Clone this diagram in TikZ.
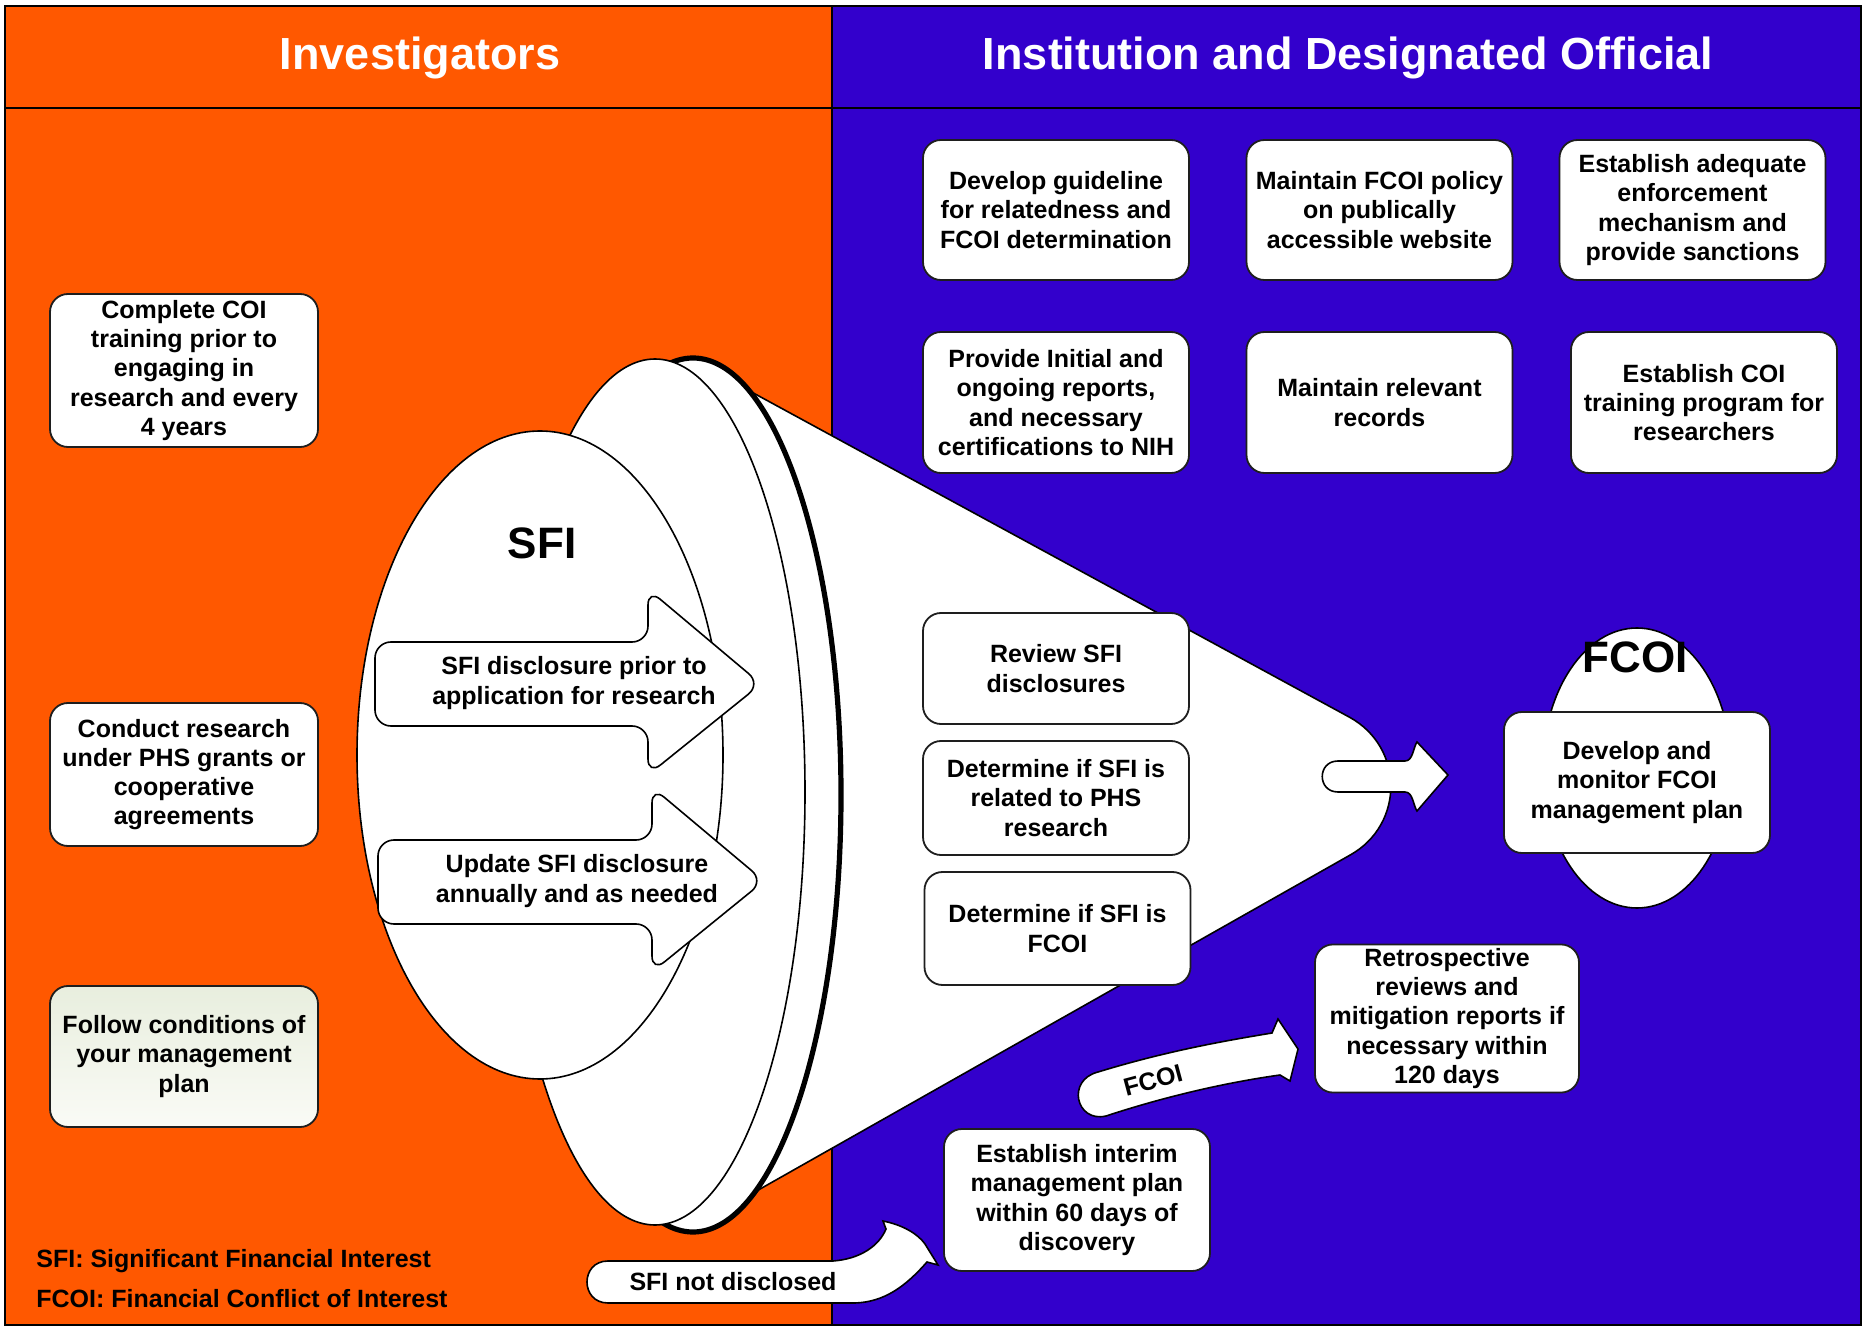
\documentclass[tikz,border=0pt]{standalone}
\usepackage{fontspec}
\setmainfont{Liberation Sans}
\definecolor{orng}{RGB}{255,88,0}
\definecolor{blu}{RGB}{51,0,204}
\definecolor{greentop}{RGB}{232,238,222}
\definecolor{greenbot}{RGB}{250,251,246}
\definecolor{edge}{RGB}{30,30,30}
\newcommand\boxtxt{\fontsize{12.5}{14.6}\selectfont\bfseries}
\newcommand\bigtxt{\fontsize{22}{26}\selectfont\bfseries}
\newcommand\headtxt{\fontsize{22.5}{27}\selectfont\bfseries}
\tikzset{
  box/.style={draw=edge, line width=0.9pt, fill=white, rounded corners=9pt, align=center, inner sep=2pt, font=\boxtxt, text=black},
  outl/.style={draw=black, line width=0.8pt, fill=white},
  lbl/.style={font=\boxtxt, align=center, text=black, inner sep=0pt},
  head/.style={font=\headtxt, text=white, inner sep=0pt},
}
\begin{document}
\begin{tikzpicture}[x=0.5pt,y=-0.5pt]
\useasboundingbox (0,0) rectangle (1865,1326);
% background panels
\fill[white] (0,0) rectangle (1865,1326);
\fill[orng] (5,6) rectangle (832,1325);
\fill[blu] (832,6) rectangle (1861,1325);
\draw[line width=0.8pt] (5,6) rectangle (1861,1325);
\draw[line width=0.8pt] (5,108) -- (1861,108);
\draw[line width=0.8pt] (832,6) -- (832,1325);
% headers
\node[head] (hinv) at (420,58) {Investigators};
\node[head] (hinst) at (1348,58) {Institution and Designated Official};
% left boxes
\node[box, minimum width=134pt, minimum height=76.5pt] (coi) at (184,370.5) {Complete COI\\training prior to\\engaging in\\research and every\\4 years};
\node[box, minimum width=134pt, minimum height=71.5pt] (conduct) at (184,774.5) {Conduct research\\under PHS grants or\\cooperative\\agreements};
\node[box, top color=greentop, bottom color=greenbot, minimum width=134pt, minimum height=70.5pt] (follow) at (184,1056.5) {Follow conditions of\\your management\\plan};
% legend
\node[lbl, anchor=west] (leg1) at (36,1261) {SFI: Significant Financial Interest};
\node[lbl, anchor=west] (leg2) at (36,1299) {FCOI: Financial Conflict of Interest};
% right top boxes
\node[box, minimum width=133pt, minimum height=70pt] (guide) at (1056,210) {Develop guideline\\for relatedness and\\FCOI determination};
\node[box, minimum width=133pt, minimum height=70pt] (policy) at (1379.5,210) {Maintain FCOI policy\\on publically\\accessible website};
\node[box, minimum width=133pt, minimum height=70pt] (enforce) at (1692.5,210) {Establish adequate\\enforcement\\mechanism and\\provide sanctions};
\node[box, minimum width=133pt, minimum height=70.5pt] (reports) at (1056,402.5) {Provide Initial and\\ongoing reports,\\and necessary\\certifications to NIH};
\node[box, minimum width=133pt, minimum height=70.5pt] (records) at (1379.5,402.5) {Maintain relevant\\records};
\node[box, minimum width=133pt, minimum height=70.5pt] (training) at (1704,402.5) {Establish COI\\training program for\\researchers};
% cone body
\draw[outl] (700,364) -- (1349.3,717.1) .. controls (1404.2,747) and (1404.8,824.2) .. (1350.4,854.9) -- (700,1223) -- cycle;
% rim and face
\draw[draw=black, fill=white, line width=2.6pt] (693,795) ellipse[x radius=74pt, y radius=218.5pt];
\draw[outl] (655,792) ellipse[x radius=75pt, y radius=216.5pt];
% SFI ellipse
\draw[outl] (540,755) ellipse[x radius=91.5pt, y radius=162pt];
\node[font=\bigtxt, inner sep=0pt] (sfi) at (542,543) {SFI};
% arrows inside SFI
\draw[outl, rounded corners=8pt] (375,642) -- (648,642) -- (648,589) -- (761,684) -- (648,775) -- (648,726) -- (375,726) -- cycle;
\node[lbl] (disc) at (574,683) {SFI disclosure prior to\\application for research};
\draw[outl, rounded corners=8pt] (378,840) -- (652,840) -- (652,787) -- (764,881) -- (652,972) -- (652,924) -- (378,924) -- cycle;
\node[lbl] (upd) at (577,881) {Update SFI disclosure\\annually and as needed};
% cone boxes
\node[box, minimum width=133pt, minimum height=55.5pt] (review) at (1056,668.5) {Review SFI\\disclosures};
\node[box, minimum width=133pt, minimum height=57pt] (related) at (1056,798) {Determine if SFI is\\related to PHS\\research};
\node[box, minimum width=133pt, minimum height=56.5pt] (isfcoi) at (1057.5,928.5) {Determine if SFI is\\FCOI};
% small arrow at cone tip
\draw[outl] (1338,761) -- (1405,761) .. controls (1413,761) and (1413,748) .. (1417,742) -- (1448,775) -- (1417,811) .. controls (1413,805) and (1413,792) .. (1405,792) -- (1338,792) .. controls (1317,792) and (1317,761) .. (1338,761) -- cycle;
% FCOI ellipse and box
\draw[outl] (1637,768) ellipse[x radius=47pt, y radius=70pt];
\node[font=\bigtxt, inner sep=0pt] (fcoi) at (1635,657) {FCOI};
\node[box, minimum width=133pt, minimum height=70.5pt] (plan) at (1637,782.5) {Develop and\\monitor FCOI\\management plan};
% FCOI curved arrow
\draw[outl] (1098,1072) .. controls (1170,1050) and (1230,1040) .. (1272,1033) -- (1278,1019) -- (1298,1049) -- (1290,1081) -- (1280,1075) .. controls (1230,1082) and (1170,1095) .. (1106,1116) .. controls (1076,1123) and (1066,1080) .. (1098,1072) -- cycle;
\node[lbl, rotate=15] (fcoilbl) at (1153,1080) {FCOI};
\node[box, minimum width=132pt, minimum height=70.5pt] (retro) at (1447,1018.5) {Retrospective\\reviews and\\mitigation reports if\\necessary within\\120 days};
% SFI not disclosed arrow
\draw[outl] (608,1261) -- (833,1261) .. controls (860,1259) and (879,1246) .. (886,1229) -- (883,1221) .. controls (903,1225) and (918,1234) .. (925,1244) -- (938,1265) -- (927,1262) .. controls (905,1287) and (884,1302) .. (855,1303) -- (608,1303) .. controls (580,1303) and (580,1261) .. (608,1261) -- cycle;
\node[lbl] (notdisc) at (733,1282) {SFI not disclosed};
\node[box, minimum width=133pt, minimum height=71pt] (interim) at (1077,1200) {Establish interim\\management plan\\within 60 days of\\discovery};
\end{tikzpicture}
\end{document}
